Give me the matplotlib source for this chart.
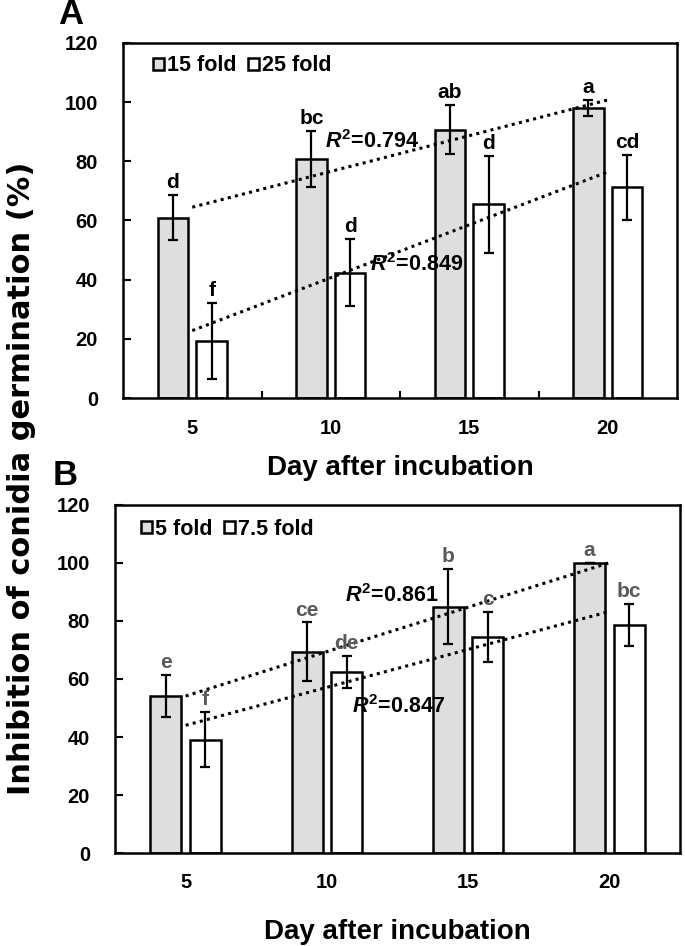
import numpy as np
import matplotlib
matplotlib.use('Agg')
from matplotlib import pyplot as plt

plt.rcParams['font.family'] = 'Liberation Sans'
plt.rcParams['font.weight'] = 'bold'
plt.rcParams['axes.labelweight'] = 'bold'
plt.rcParams['mathtext.fontset'] = 'custom'
plt.rcParams['mathtext.it'] = 'Liberation Sans:italic:bold'
plt.rcParams['mathtext.bf'] = 'Liberation Sans:bold'
plt.rcParams['mathtext.rm'] = 'Liberation Sans:bold'

days = ['5', '10', '15', '20']

# panel A: 15 fold / 25 fold
a_15fold = [61.0, 80.8, 90.7, 98.0]
a_15fold_err = [7.6, 9.6, 8.3, 2.6]
a_25fold = [19.3, 42.4, 65.5, 71.2]
a_25fold_err = [12.8, 11.3, 16.4, 11.0]
a_15fold_letters = ['d', 'bc', 'ab', 'a']
a_25fold_letters = ['f', 'd', 'd', 'cd']
a_r2 = ['0.794', '0.849']

# panel B: 5 fold / 7.5 fold
b_5fold = [54.1, 69.4, 84.9, 100.0]
b_5fold_err = [7.2, 10.1, 13.0, 0.0]
b_75fold = [39.1, 62.4, 74.4, 78.7]
b_75fold_err = [9.6, 5.6, 8.7, 7.3]
b_5fold_letters = ['e', 'ce', 'b', 'a']
b_75fold_letters = ['f', 'de', 'c', 'bc']
b_r2 = ['0.861', '0.847']

gray = '#dedede'
width = 0.22
off = 0.14


def draw_panel(ax, v1, e1, v2, e2, let1, let2, names, r2, r2_pos, letter_color,
               leg_anchor, xpad, labpad, boundary_ticks):
    x = np.arange(len(days))
    b1 = ax.bar(x - off, v1, width, color=gray, edgecolor='black', linewidth=1.8,
                label=names[0], zorder=2)
    b2 = ax.bar(x + off, v2, width, color='white', edgecolor='black', linewidth=1.8,
                label=names[1], zorder=2)
    ax.errorbar(x - off, v1, yerr=e1, fmt='none', ecolor='black', elinewidth=1.6,
                capsize=3.5, capthick=1.6, zorder=4)
    ax.errorbar(x + off, v2, yerr=e2, fmt='none', ecolor='black', elinewidth=1.6,
                capsize=3.5, capthick=1.6, zorder=4)

    # linear trendlines across the category centres
    for vals in (v1, v2):
        fit = np.polyfit(x, vals, 1)
        ax.plot(x, np.polyval(fit, x), color='black', lw=2.2,
                linestyle=(0, (1, 1.4)), zorder=3)

    for i in range(len(days)):
        ax.annotate(let1[i], (x[i] - off, v1[i] + e1[i]), xytext=(0, 5),
                    textcoords='offset points', ha='center', va='baseline',
                    fontsize=15, color=letter_color, zorder=5)
        ax.annotate(let2[i], (x[i] + off, v2[i] + e2[i]), xytext=(0, 5),
                    textcoords='offset points', ha='center', va='baseline',
                    fontsize=15, color=letter_color, zorder=5)

    for txt, (px, py) in zip(r2, r2_pos):
        ax.text(px, py, r'$R^{\mathbf{2}}$=' + txt, fontsize=15.5, ha='left',
                va='center', zorder=5)

    ax.legend(handles=[b1, b2], loc='upper left', bbox_to_anchor=leg_anchor,
              frameon=False, ncol=2, fontsize=15.5, handlelength=0.5,
              handleheight=0.5, handletextpad=0.15, columnspacing=0.55,
              borderpad=0, borderaxespad=0)

    ax.set_xlim(-0.5, 3.5)
    ax.set_ylim(0, 120)
    ax.set_yticks(np.arange(0, 121, 20))
    ax.set_xticks(x, days)
    ax.tick_params(axis='x', length=0, labelsize=14.5, pad=xpad)
    ax.tick_params(axis='y', direction='in', length=6, width=1.5, labelsize=14.5, pad=18)
    if boundary_ticks:
        ax.set_xticks([0.5, 1.5, 2.5], minor=True)
        ax.tick_params(axis='x', which='minor', direction='in', length=5, width=1.5)
    for s in ax.spines.values():
        s.set_linewidth(1.8)
    ax.set_xlabel('Day after incubation', fontsize=20, fontweight='bold',
                  labelpad=labpad)


fig = plt.figure(figsize=(6.85, 9.46), dpi=100)

axA = fig.add_axes([123 / 685, 1 - 398 / 946, 554 / 685, 355 / 946])
draw_panel(axA, a_15fold, a_15fold_err, a_25fold, a_25fold_err,
           a_15fold_letters, a_25fold_letters, ['15 fold', '25 fold'],
           a_r2, [(0.96, 86.7), (1.28, 45.2)], 'black', (0.054, 0.965),
           15, 12, True)

axB = fig.add_axes([115 / 685, 1 - 853 / 946, 565 / 685, 348 / 946])
draw_panel(axB, b_5fold, b_5fold_err, b_75fold, b_75fold_err,
           b_5fold_letters, b_75fold_letters, ['5 fold', '7.5 fold'],
           b_r2, [(1.13, 88.7), (1.18, 50.4)], '#595959', (0.046, 0.96),
           14.5, 19, False)

fig.text(71 / 685, 1 - 15 / 946, 'A', fontsize=25, ha='center', va='center')
fig.text(65 / 685, 1 - 475 / 946, 'B', fontsize=25, ha='center', va='center')
fig.text(22 / 685, 1 - 478 / 946, 'Inhibition of conidia germination (%)',
         rotation=90, fontsize=22, family='DejaVu Sans', weight='bold',
         ha='center', va='center')

fig.savefig('out.png', dpi=100)
